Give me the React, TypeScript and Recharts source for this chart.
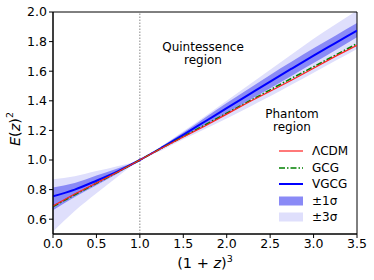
import React from 'react';
import { ComposedChart, Line, Area, XAxis, YAxis, ReferenceLine, ReferenceArea, Customized } from 'recharts';

const xs = [0, 0.25, 0.5, 0.75, 1.0, 1.25, 1.5, 1.75, 2.0, 2.25, 2.5, 2.75, 3.0, 3.25, 3.5];
const lcdm = [0.69, 0.77, 0.845, 0.92, 1.0, 1.08, 1.155, 1.23, 1.31, 1.39, 1.465, 1.54, 1.62, 1.70, 1.775];
const gcg = [0.685, 0.765, 0.843, 0.92, 1.0, 1.08, 1.158, 1.237, 1.316, 1.395, 1.474, 1.553, 1.63, 1.708, 1.786];
const vgcg = [0.755, 0.80, 0.86, 0.925, 1.0, 1.083, 1.17, 1.26, 1.35, 1.44, 1.53, 1.618, 1.705, 1.79, 1.875];
const sig1Low = [0.66, 0.75, 0.83, 0.91, 1.0, 1.075, 1.155, 1.235, 1.315, 1.40, 1.485, 1.57, 1.655, 1.742, 1.83];
const sig1High = [0.815, 0.845, 0.895, 0.945, 1.0, 1.09, 1.185, 1.285, 1.385, 1.48, 1.575, 1.665, 1.755, 1.84, 1.925];
const sig3Low = [0.515, 0.655, 0.775, 0.89, 1.0, 1.065, 1.14, 1.21, 1.28, 1.355, 1.43, 1.51, 1.59, 1.67, 1.75];
const sig3High = [0.87, 0.89, 0.925, 0.96, 1.0, 1.095, 1.195, 1.295, 1.40, 1.505, 1.61, 1.715, 1.82, 1.915, 2.01];

const xTicks = [0, 0.5, 1.0, 1.5, 2.0, 2.5, 3.0, 3.5];
const yTicks = [0.6, 0.8, 1.0, 1.2, 1.4, 1.6, 1.8, 2.0];
const legendLabels = ['\u039BCDM', 'GCG', 'VGCG', '\u00B11\u03C3', '\u00B13\u03C3'];

const data = xs.map((x, i) => ({
  x,
  lcdm: lcdm[i],
  gcg: gcg[i],
  vgcg: vgcg[i],
  s1: [sig1Low[i], sig1High[i]],
  s3: [sig3Low[i], sig3High[i]],
}));

const FONT = 'DejaVu Sans';
const C_S1 = '#8a8af6';
const C_S3 = '#dfdffc';

const Overlay = () => {
  const rowY = [151, 168, 184, 201, 217];
  const lx1 = 279;
  const lx2 = 303;
  const tx = 312;
  return (
    <g fontFamily={FONT}>
      <text x={203} y={47} textAnchor="middle" dominantBaseline="central" fontSize={12} fill="#000">Quintessence</text>
      <text x={203} y={60} textAnchor="middle" dominantBaseline="central" fontSize={12} fill="#000">region</text>
      <text x={292} y={114} textAnchor="middle" dominantBaseline="central" fontSize={12} fill="#000">Phantom</text>
      <text x={292} y={127} textAnchor="middle" dominantBaseline="central" fontSize={12} fill="#000">region</text>
      <line x1={lx1} x2={lx2} y1={rowY[0]} y2={rowY[0]} stroke="#ff2020" strokeWidth={1.2} />
      <line x1={lx1} x2={lx2} y1={rowY[1]} y2={rowY[1]} stroke="#008000" strokeWidth={1.6} strokeDasharray="6 2 1.5 2" />
      <line x1={lx1} x2={lx2} y1={rowY[2]} y2={rowY[2]} stroke="#0000ff" strokeWidth={2} />
      <rect x={lx1} y={rowY[3] - 4.5} width={lx2 - lx1} height={9} fill={C_S1} />
      <rect x={lx1} y={rowY[4] - 4.5} width={lx2 - lx1} height={9} fill={C_S3} />
      {legendLabels.map((l, i) => (
        <text key={l} x={tx} y={rowY[i]} dominantBaseline="central" fontSize={12} fill="#000">{l}</text>
      ))}
      <text transform="translate(15,129) rotate(-90)" textAnchor="middle" dominantBaseline="central" fontSize={14.5} fill="#000">
        <tspan fontStyle="italic">E</tspan>(<tspan fontStyle="italic">z</tspan>)<tspan fontSize={9.5} dy={-6}>2</tspan>
      </text>
      <text x={205} y={263} textAnchor="middle" dominantBaseline="central" fontSize={14.5} fill="#000">
        (1 + <tspan fontStyle="italic">z</tspan>)<tspan fontSize={9.5} dy={-5}>3</tspan>
      </text>
    </g>
  );
};

export default function App() {
  return (
    <div style={{ position: 'absolute', left: 0, top: 0, background: '#fff' }}>
      <ComposedChart width={374} height={280} data={data} margin={{ top: 12, right: 17, left: 0, bottom: 16 }}>
        <XAxis
          dataKey="x"
          type="number"
          domain={[0, 3.5]}
          ticks={xTicks}
          tickFormatter={(v: number) => v.toFixed(1)}
          tickSize={4}
          tickMargin={1}
          height={30}
          stroke="#000"
          tick={{ fill: '#000', fontSize: 12.5, fontFamily: FONT }}
          allowDataOverflow
        />
        <YAxis
          type="number"
          domain={[0.5, 2.0]}
          ticks={yTicks}
          tickFormatter={(v: number) => v.toFixed(1)}
          tickSize={4}
          tickMargin={2}
          width={53}
          stroke="#000"
          tick={{ fill: '#000', fontSize: 12.5, fontFamily: FONT }}
          allowDataOverflow
        />
        <Area dataKey="s3" type="monotone" stroke="none" fill={C_S3} fillOpacity={1} isAnimationActive={false} />
        <Area dataKey="s1" type="monotone" stroke="none" fill={C_S1} fillOpacity={1} isAnimationActive={false} />
        <ReferenceLine x={1} stroke="#888" strokeDasharray="1.5 1.5" strokeWidth={1} />
        <Line dataKey="vgcg" type="monotone" stroke="#0000ff" strokeWidth={2} dot={false} isAnimationActive={false} />
        <Line dataKey="gcg" type="linear" stroke="#008000" strokeWidth={1.6} strokeDasharray="6 2 1.5 2" dot={false} isAnimationActive={false} />
        <Line dataKey="lcdm" type="linear" stroke="#ff2020" strokeWidth={1.2} dot={false} isAnimationActive={false} />
        <ReferenceArea x1={0} x2={3.5} y1={0.5} y2={2.0} fill="none" stroke="#000" strokeWidth={1} ifOverflow="visible" />
        <Customized component={Overlay} />
      </ComposedChart>
    </div>
  );
}
